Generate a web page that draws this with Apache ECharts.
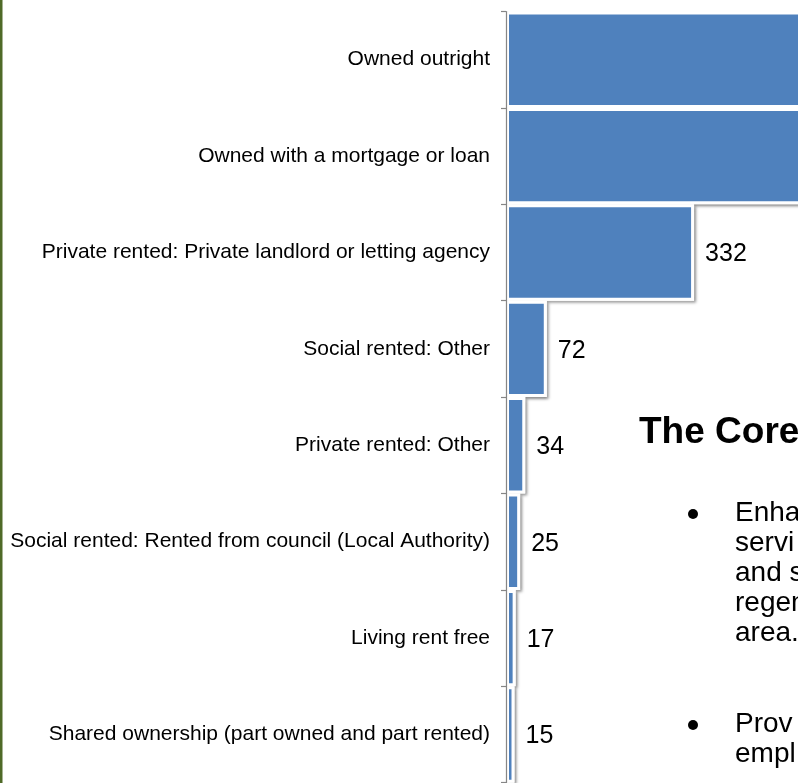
<!DOCTYPE html>
<html>
<head>
<meta charset="utf-8">
<script src="https://cdn.jsdelivr.net/npm/echarts@6/dist/echarts.min.js"></script>
<style>
html,body{margin:0;padding:0;background:#fff;}
#c{width:798px;height:783px;}
</style>
</head>
<body>
<div id="c"></div>
<script>
const categories = [
  'Owned outright',
  'Owned with a mortgage or loan',
  'Private rented: Private landlord or letting agency',
  'Social rented: Other',
  'Private rented: Other',
  'Social rented: Rented from council (Local Authority)',
  'Living rent free',
  'Shared ownership (part owned and part rented)'
];
const households = [930, 860, 332, 72, 34, 25, 17, 15];
const xMax = 1000;
const heading = 'The Core';
const bulletLines1 = ['Enha', 'servi', 'and s', 'regen', 'area.'];
const bulletLines2 = ['Prov', 'empl'];

const FONT = "'Liberation Sans', Arial, sans-serif";
const pxPerUnit = 0.5665;

const chart = echarts.init(document.getElementById('c'), null, {renderer: 'canvas'});

const graphics = [
  {type: 'rect', left: 0, top: 0, shape: {x: 0, y: 0, width: 2.5, height: 783}, style: {fill: '#4F6A28'}, z: 10},
  {type: 'text', x: 639, y: 433, style: {text: heading, font: "bold 37px " + FONT, fill: '#000', verticalAlign: 'middle', align: 'left'}, z: 10}
];
bulletLines1.forEach((t, i) => {
  graphics.push({type: 'text', x: 735, y: 513 + i * 30, style: {text: t, font: "28px " + FONT, fill: '#000', verticalAlign: 'middle', align: 'left'}, z: 10});
});
bulletLines2.forEach((t, i) => {
  graphics.push({type: 'text', x: 735, y: 724 + i * 30, style: {text: t, font: "28px " + FONT, fill: '#000', verticalAlign: 'middle', align: 'left'}, z: 10});
});
graphics.push({type: 'circle', shape: {cx: 693, cy: 514, r: 5}, style: {fill: '#000'}, z: 10});
graphics.push({type: 'circle', shape: {cx: 693, cy: 725, r: 5}, style: {fill: '#000'}, z: 10});

chart.setOption({
  animation: false,
  backgroundColor: '#fff',
  grid: {left: 506, top: 11.5, height: 771.2, width: xMax * pxPerUnit, containLabel: false, outerBoundsMode: 'none'},
  xAxis: {
    type: 'value', min: 0, max: xMax, show: false,
    splitLine: {show: false}
  },
  yAxis: {
    type: 'category',
    inverse: true,
    data: categories,
    z: 5,
    axisLine: {show: true, lineStyle: {color: '#868686', width: 1.2}},
    axisTick: {show: true, length: 5, lineStyle: {color: '#868686', width: 1.2}},
    axisLabel: {margin: 16, fontSize: 21, fontFamily: FONT, color: '#000'},
    splitLine: {show: false}
  },
  series: [{
    type: 'bar',
    name: 'shadow',
    data: households,
    silent: true,
    barCategoryGap: '0%',
    barGap: '-100%',
    itemStyle: {
      color: '#fff',
      borderColor: '#fff',
      borderWidth: 3,
      shadowColor: 'rgba(0,0,0,0.35)',
      shadowBlur: 3,
      shadowOffsetX: 2,
      shadowOffsetY: 2
    },
    label: {show: false}
  }, {
    type: 'bar',
    name: 'Households',
    data: households,
    barCategoryGap: '0%',
    barGap: '-100%',
    itemStyle: {
      color: '#4F81BD',
      borderColor: '#fff',
      borderWidth: 3
    },
    label: {
      show: true, position: 'right', distance: 11, offset: [0, 2],
      fontSize: 25, fontFamily: FONT, color: '#000'
    }
  }],
  graphic: graphics
});
</script>
</body>
</html>
